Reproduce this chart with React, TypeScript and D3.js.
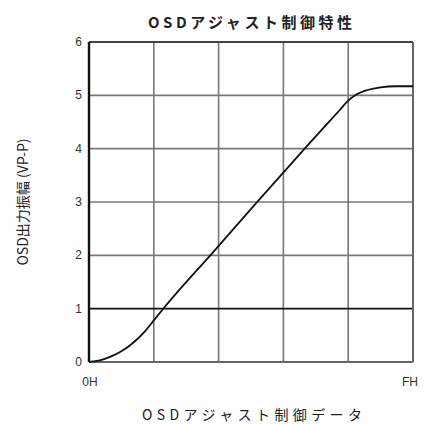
import React from "react";
import * as d3 from "d3";

const title = "OSDアジャスト制御特性";
const xTitle = "OSDアジャスト制御データ";
const yTitle = "OSD出力振幅 (VP-P)";
const yTicks = [0, 1, 2, 3, 4, 5, 6];
const xGrid = [0, 3, 6, 9, 12, 15];
const xTickLabels = [
  { v: 0, label: "0H" },
  { v: 15, label: "FH" },
];
const dataX = [0, 0.5, 1.0, 1.5, 2.1, 2.6, 3.0, 3.4, 5.79, 7.83, 10.14, 11.6, 12.0, 12.4, 12.9, 13.5, 14.2, 15];
const dataY = [0, 0.03, 0.1, 0.2, 0.38, 0.58, 0.78, 0.98, 2.08, 3.02, 4.07, 4.72, 4.9, 5.02, 5.1, 5.15, 5.17, 5.17];

const W = 429;
const H = 424;
const L = 89, R = 413, T = 42, B = 362;

export default function App() {
  const x = d3.scaleLinear().domain([0, 15]).range([L, R]);
  const y = d3.scaleLinear().domain([0, 6]).range([B, T]);
  const pts = dataX.map((v, i) => [v, dataY[i]] as [number, number]);
  const line = d3
    .line<[number, number]>()
    .x((d) => x(d[0]))
    .y((d) => y(d[1]))
    .curve(d3.curveMonotoneX);
  const font = "'Noto Sans CJK JP', 'Liberation Sans', sans-serif";
  return (
    <svg
      width={W}
      height={H}
      style={{ position: "absolute", left: 0, top: 0, background: "#fff" }}
      fontFamily={font}
    >
      <rect x={0} y={0} width={W} height={H} fill="#fff" />
      <text x={250} y={28} textAnchor="middle" fontSize={15} fontWeight={600} fill="#222" textLength={204} lengthAdjust="spacing">
        {title}
      </text>
      {xGrid.slice(1, -1).map((v) => (
        <line key={"vx" + v} x1={x(v)} x2={x(v)} y1={T} y2={B} stroke="#777" strokeWidth={1.6} />
      ))}
      {yTicks.slice(1, -1).map((v) => (
        <line key={"hy" + v} x1={L} x2={R} y1={y(v)} y2={y(v)} stroke={v === 1 ? "#111" : "#777"} strokeWidth={v === 1 ? 1.8 : 1.6} />
      ))}
      <line x1={L} x2={R} y1={T} y2={T} stroke="#444" strokeWidth={2} />
      <line x1={R} x2={R} y1={T} y2={B} stroke="#666" strokeWidth={2} />
      <line x1={L} x2={R} y1={B} y2={B} stroke="#666" strokeWidth={2} />
      <line x1={L} x2={L} y1={T} y2={B} stroke="#111" strokeWidth={2.4} />
      <path d={line(pts) || ""} fill="none" stroke="#111" strokeWidth={1.8} />
      {yTicks.map((v) => (
        <text key={"yt" + v} x={82} y={y(v) + 4} textAnchor="end" fontSize={12} fill="#333" fontFamily="'Liberation Sans', sans-serif">
          {v}
        </text>
      ))}
      {xTickLabels.map((d) => (
        <text key={"xt" + d.label} x={x(d.v) + (d.v === 0 ? 1 : -3)} y={386} textAnchor="middle" fontSize={12} fill="#333" fontFamily="'Liberation Sans', sans-serif">
          {d.label}
        </text>
      ))}
      <text x={252} y={420} textAnchor="middle" fontSize={14} fill="#222" textLength={220} lengthAdjust="spacing">
        {xTitle}
      </text>
      <text
        transform={`translate(28,202) rotate(-90)`}
        textAnchor="middle"
        fontSize={14}
        fill="#222"
      >
        {yTitle}
      </text>
    </svg>
  );
}
